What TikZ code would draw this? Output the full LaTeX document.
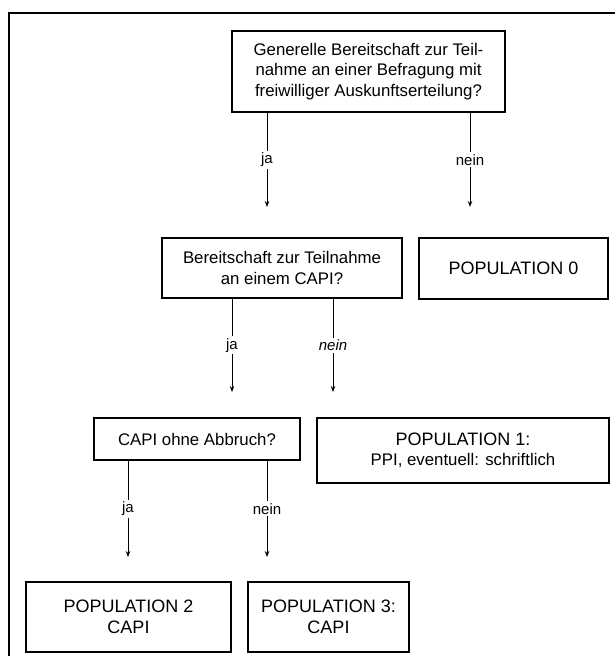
\documentclass[tikz,border=0pt]{standalone}
\usepackage{fontspec}
\setmainfont{Liberation Sans}
\usetikzlibrary{arrows.meta}
\newcommand{\popfont}{\fontsize{18}{20.5}\selectfont}
\begin{document}
\begin{tikzpicture}[x=1pt,y=-1pt,
  box/.style={draw,line width=1.1pt,inner sep=0pt,align=center,font=\fontsize{16.8}{20.5}\selectfont},
  lbl/.style={fill=white,inner sep=2pt,font=\fontsize{15}{18}\selectfont},
  arr/.style={line width=0.9pt,-{Stealth[length=6pt,width=4.5pt]}}]
\useasboundingbox (0,0) rectangle (615,656);
\draw[line width=1.1pt] (9,700) -- (9,13) -- (700,13);
\node[box,minimum width=273pt,minimum height=81pt] (b1) at (368.5,71.5)
  {Generelle Bereitschaft zur Teil-\\nahme an einer Befragung mit\\freiwilliger Auskunftserteilung?};
\node[box,minimum width=240pt,minimum height=60pt] (b2) at (282,268)
  {Bereitschaft zur Teilnahme\\an einem CAPI?};
\node[box,minimum width=189pt,minimum height=61pt] (p0) at (513.5,268.5) {\popfont POPULATION 0};
\node[box,minimum width=206pt,minimum height=42pt] (b3) at (197,439) {CAPI ohne Abbruch?};
\node[box,minimum width=292pt,minimum height=65pt] (p1) at (463,450.5)
  {{\popfont POPULATION 1:}\\PPI, eventuell: schriftlich};
\node[box,minimum width=205pt,minimum height=70pt] (p2) at (128.5,617) {\popfont POPULATION 2\\\popfont CAPI};
\node[box,minimum width=161pt,minimum height=70pt] (p3) at (328.5,617) {\popfont POPULATION 3:\\\popfont CAPI};
\coordinate (e1) at (267,207);
\coordinate (e2) at (470,207);
\coordinate (e3) at (232,392);
\coordinate (e4) at (333,392);
\coordinate (e5) at (128,557);
\coordinate (e6) at (267,557);
\draw[arr] (b1.south -| e1) -- node[lbl]{ja} (e1);
\draw[arr] (b1.south -| e2) -- node[lbl]{nein} (e2);
\draw[arr] (b2.south -| e3) -- node[lbl]{ja} (e3);
\draw[arr] (b2.south -| e4) -- node[lbl]{\itshape nein} (e4);
\draw[arr] (b3.south -| e5) -- node[lbl]{ja} (e5);
\draw[arr] (b3.south -| e6) -- node[lbl]{nein} (e6);
\end{tikzpicture}
\end{document}
